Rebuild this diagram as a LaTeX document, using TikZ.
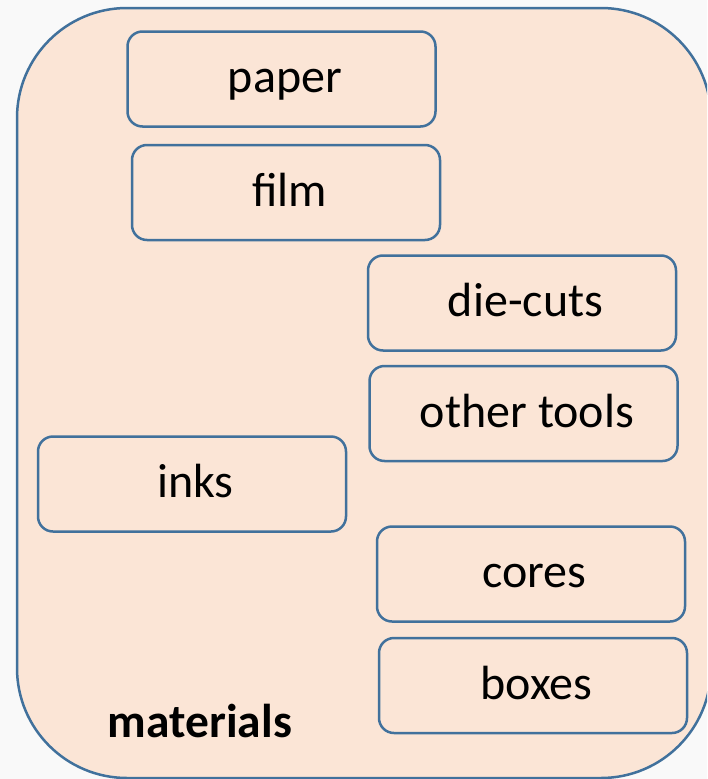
\documentclass[tikz,border=0pt]{standalone}
\usepackage{fontspec}
\setmainfont{Carlito}
\definecolor{bgc}{HTML}{F9F9F9}
\definecolor{fillc}{HTML}{FBE5D6}
\definecolor{linec}{HTML}{41719C}
\tikzset{
  item/.style={draw=linec, fill=fillc, line width=2.5pt, rounded corners=15pt,
    minimum width=308pt, minimum height=95pt, inner sep=0pt,
    text height=27pt, text depth=0pt,
    execute at begin node={\hspace*{7pt}},
    font=\fontsize{48}{57}\selectfont},
  outer/.style={draw=linec, fill=fillc, line width=2.5pt, rounded corners=110pt},
  title/.style={anchor=base, inner sep=0pt, font=\fontsize{47.5}{57}\selectfont\bfseries}
}
\begin{document}
\begin{tikzpicture}[x=1pt,y=-1pt]
\fill[bgc] (0,0) rectangle (707,779);
\useasboundingbox (0,0) rectangle (707,779);
\clip (0,0) rectangle (707,779);
\draw[outer] (17,8) rectangle (711,778);
\node[item] (paper) at (281.5,79) {paper};
\node[item] (film) at (286,192.5) {film};
\node[item] (diecuts) at (522,303) {die-cuts};
\node[item] (tools) at (523.5,413.5) {other tools};
\node[item] (inks) at (192,484) {inks};
\node[item] (cores) at (531,574) {cores};
\node[item] (boxes) at (533,685.5) {boxes};
\node[title] (materials) at (200,737) {materials};
\end{tikzpicture}
\end{document}
